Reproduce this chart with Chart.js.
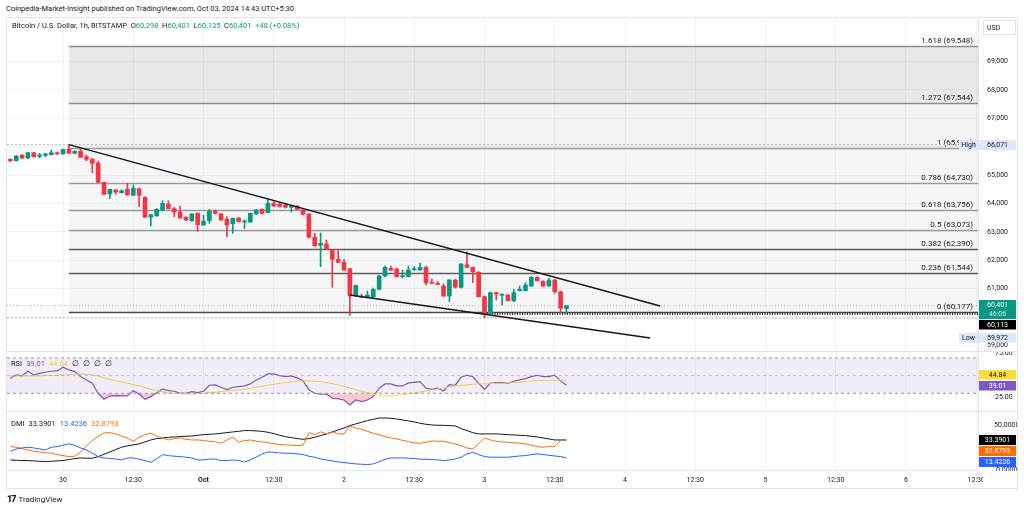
<!DOCTYPE html>
<html><head><meta charset="utf-8">
<script src="https://cdn.jsdelivr.net/npm/chart.js@4.4.1/dist/chart.umd.min.js"></script>
<style>
  body { margin:0; width:1024px; height:511px; background:#fff; overflow:hidden; position:relative;
         font-family: Roboto, "Liberation Sans", sans-serif; color:#131722; }
  canvas, .abs { position:absolute; }
  #frame { left:6px; top:17px; width:1010px; height:470px; border:1px solid #e0e3eb; }
  .sep { left:7px; width:1010px; height:1px; background:#e0e3eb; }
  #hdr { left:6px; top:4px; font-size:7.5px; white-space:nowrap; }
  #sym { left:12px; top:21px; font-size:7.5px; white-space:nowrap; }
  .leg { left:11px; font-size:7.5px; white-space:nowrap; }
  .leg span { margin-right:4px; }
  .g { color:#089981; }
  #tv { left:7px; top:494px; font-size:8px; white-space:nowrap; }
  #tv b { font-weight:900; font-size:9px; letter-spacing:-1px; margin-right:3px; }
</style>
</head>
<body>
<div id="frame" class="abs"></div>
<div id="hdr" class="abs">Coinpedia-Market-Insight published on TradingView.com, Oct 03, 2024 14:43 UTC+5:30</div>
<canvas id="price" width="1010" height="333" style="left:7px;top:18px"></canvas>
<div class="sep abs" style="top:351px"></div>
<canvas id="rsi" width="1010" height="59" style="left:7px;top:352px"></canvas>
<div class="sep abs" style="top:411px"></div>
<canvas id="dmi" width="1010" height="76" style="left:7px;top:412px"></canvas>
<div id="sym" class="abs">Bitcoin / U.S. Dollar, 1h, BITSTAMP &nbsp;O<span class="g">60,298</span> &nbsp;H<span class="g">60,401</span> &nbsp;L<span class="g">60,135</span> &nbsp;C<span class="g">60,401</span> &nbsp;<span class="g">+48 (+0.08%)</span></div>
<div class="leg abs" style="top:359px"><span>RSI</span><span style="color:#7e57c2">39.01</span><span style="color:#f9d71c">44.84</span><span>∅</span><span>∅</span><span>∅</span><span>∅</span></div>
<div class="leg abs" style="top:419px"><span>DMI</span><span>33.3901</span><span style="color:#2962ff">13.4236</span><span style="color:#ff6d00">32.8793</span></div>
<div id="tv" class="abs"><b>17</b>TradingView</div>
<script>
// hourly bars, first bar is 9 hours before the "30" tick
const firstBar = -9;
const opens = [65555,65506,65696,65601,65788,65661,65696,65717,65788,
  65742,65918,65767,65848,65647,65566,65425,64745,64333,64474,
  64379,64499,64288,64520,64217,63513,63569,63770,63981,63816,
  63699,63513,63393,63653,63241,63393,63724,63629,63442,63287,
  63488,63347,63347,63629,63794,63675,64006,63981,63946,63865,
  63911,63770,63629,62809,62527,62572,62361,62033,61927,61702,
  60741,60741,60695,60706,60977,61445,61716,61691,61427,61421,
  61671,61656,61752,61209,61188,61093,60741,61304,61047,61843,
  61752,61576,60716,60131,60857,60766,60776,60564,60927,60927,
  61093,61400,61258,61093,61304,60892,60298];
const highs = [65577,65689,65732,65802,65802,65767,65767,65883,65813,
  65918,66071,65858,65908,65707,65577,65506,64756,64509,64492,
  64474,64710,64650,64534,64238,63629,63823,64097,64097,63858,
  63910,63541,63646,63675,63583,63794,63770,63653,63534,63488,
  63506,63417,63664,63794,63815,64146,64087,64027,64006,63946,
  63928,63787,63646,62949,62960,62713,62385,62385,62033,61716,
  61128,60811,60917,61022,61480,61797,61797,61726,61656,61797,
  61780,61903,61797,61339,61252,61163,61322,61322,61885,62301,
  61762,61604,60741,60882,60882,60829,60794,60977,61093,61209,
  61427,61427,61287,61364,61322,60917,60401];
const lows = [65460,65496,65577,65577,65636,65612,65647,65707,65717,
  65732,65753,65753,65612,65506,65083,64721,64298,64168,64323,
  64368,64288,64273,63886,63499,63206,63541,63735,63805,63534,
  63470,63393,63365,63020,63224,63302,63629,63400,62829,62949,
  63347,63125,63330,63618,63629,63664,63893,63876,63840,63699,
  63770,63593,62784,62485,61773,62378,61047,61913,61638,60054,
  60723,60688,60670,60670,60952,61410,61638,61410,61375,61410,
  61638,61638,61128,61163,61128,60723,60540,61022,61022,61727,
  61209,60706,59972,60107,60600,60424,60564,60547,60917,60917,
  61075,61269,61075,61075,60836,60152,60135];
const closes = [65506,65672,65601,65788,65647,65707,65742,65788,65742,
  65908,65767,65837,65626,65555,65415,64745,64323,64499,64404,
  64450,64298,64534,64288,63513,63604,63794,64006,63816,63699,
  63488,63417,63629,63252,63372,63724,63653,63417,63241,63477,
  63358,63382,63653,63770,63653,64006,63911,63886,63865,63911,
  63794,63619,62809,62513,62597,62396,62033,61927,61656,60741,
  61111,60695,60776,60977,61445,61752,61656,61421,61445,61656,
  61681,61752,61209,61188,61153,60741,61304,61047,61868,61752,
  61597,60716,60107,60857,60811,60801,60575,60857,60977,61128,
  61400,61280,61093,61304,60892,60307,60401];

const rsi = [47.0,50.8,49.6,54.9,50.8,52.6,53.8,54.9,55.3,
  59.4,56.4,54.5,48.9,45.1,41.3,30.0,23.2,27.0,27.4,
  27.0,27.0,33.0,29.2,23.2,26.2,30.7,34.9,33.0,32.3,
  30.0,30.0,31.9,30.7,32.3,39.1,39.4,36.8,33.8,36.8,
  37.5,38.3,40.6,45.1,48.1,51.9,51.9,50.0,48.9,49.6,
  47.4,44.3,33.8,30.0,28.9,28.9,24.3,23.6,22.4,16.8,
  22.4,20.6,22.4,26.2,35.7,40.6,40.6,38.3,38.3,41.7,
  42.4,43.2,35.7,34.5,35.7,32.6,39.8,39.1,48.1,50.4,
  48.9,41.3,34.5,41.3,42.1,42.1,41.3,43.6,45.1,46.6,
  48.9,50.4,48.9,48.9,50.4,44.0,39.01];
const rsiMa = [49.6,49.6,49.6,49.6,49.6,49.6,50.0,50.0,50.4,
  50.8,51.1,51.5,51.9,51.5,50.8,49.6,47.4,45.8,44.3,
  42.8,41.3,39.8,38.3,36.4,34.5,33.0,31.9,30.7,30.0,
  29.6,29.2,29.2,29.6,30.0,30.7,31.1,31.9,32.6,33.0,
  33.8,34.5,35.7,36.8,37.9,39.1,40.2,41.3,42.1,42.8,
  43.6,44.0,44.0,43.6,43.2,42.1,40.9,39.4,37.9,36.0,
  34.2,32.3,30.4,28.9,27.7,27.0,27.4,27.7,28.5,29.2,
  30.4,31.5,32.6,33.8,34.9,36.0,37.2,38.3,39.1,39.4,
  40.2,40.6,40.6,40.9,41.3,41.3,41.7,42.1,42.4,43.2,
  44.0,44.3,44.5,44.6,44.7,44.8,44.84];
const adx = [11.2,10.8,10.5,10.5,10.1,9.7,9.4,9.7,10.1,
  10.5,11.6,12.7,13.4,13.1,13.1,14.9,17.5,20.1,22.7,
  25.3,26.8,27.9,29.0,31.2,33.4,34.9,35.6,36.4,36.7,
  37.1,37.5,37.8,38.6,39.3,39.7,40.1,40.8,41.5,42.3,
  43.0,43.8,43.8,43.4,43.0,41.9,40.4,38.6,37.1,36.0,
  34.9,34.1,34.9,36.4,38.2,40.1,42.3,44.5,46.7,49.3,
  51.2,53.0,54.9,56.3,57.8,57.8,57.5,56.7,55.6,54.5,
  53.4,51.9,50.8,50.1,49.7,49.7,49.3,49.0,46.0,43.8,
  41.5,40.1,40.1,40.1,40.1,39.7,39.3,39.0,38.6,38.2,
  37.5,36.7,35.6,34.5,33.4,33.4,33.3901];
const minusDi = [26.0,25.3,23.8,22.3,20.8,20.1,19.3,18.6,17.1,
  16.0,14.9,15.3,19.7,26.7,32.7,37.1,41.2,41.5,40.1,
  37.8,35.6,31.9,36.4,39.3,40.8,37.8,35.6,33.4,34.9,
  35.6,34.1,33.4,33.4,32.7,31.9,31.2,29.7,33.4,36.4,
  30.8,32.7,33.4,31.9,31.2,30.4,29.3,28.2,27.9,27.5,
  27.1,27.5,41.5,39.3,42.3,40.1,42.7,40.1,40.1,49.0,
  46.7,45.2,43.0,40.8,39.3,37.1,35.6,34.5,33.0,31.6,
  30.1,29.7,30.8,32.3,31.9,31.9,30.4,29.0,27.1,24.5,
  23.4,29.0,35.6,33.4,31.9,31.2,30.8,30.4,29.7,29.0,
  27.5,26.0,25.3,26.0,26.0,32.7,32.8793];
const plusDi = [20.8,23.4,24.5,25.3,24.5,23.4,22.3,25.3,26.0,
  27.5,29.0,27.5,24.5,22.3,18.6,14.9,13.4,12.7,12.3,
  11.2,13.4,13.4,12.0,10.5,8.6,12.3,17.1,16.0,15.3,
  14.9,14.2,13.4,11.2,11.2,12.3,12.0,10.5,10.5,11.2,
  10.5,9.0,11.2,14.2,17.9,20.1,19.7,19.0,18.6,18.6,
  17.9,17.1,15.3,14.2,12.3,11.2,10.1,9.0,8.2,7.5,
  6.8,6.4,6.0,6.8,9.0,12.0,13.4,13.4,13.4,13.1,
  12.7,12.0,12.0,11.6,11.2,10.5,11.2,12.3,14.2,17.9,
  19.7,17.1,14.9,14.2,14.2,14.2,14.2,14.9,15.6,16.0,
  17.1,17.9,17.1,16.4,15.6,14.9,13.4236];

const timeTicks = [0,12,24,36,48,60,72,84,96,108,120,132,144,156];
const timeLabels = ['30','12:30','Oct','12:30','2','12:30','3','12:30','4','12:30','5','12:30','6','12:30'];
const priceTicks = [59000,60000,61000,62000,63000,64000,65000,66000,67000,68000,69000];

const fibRatios = ['1.618','1.272','1','0.786','0.618','0.5','0.382','0.236','0'];
const fibPrices = [69548,67544,65969,64730,63756,63073,62390,61544,60177];
const fibStart = 1;
const trendUpper = [{x:1, y:66071}, {x:102, y:60390}];
const trendLower = [{x:49, y:60776}, {x:100.3, y:59262}];
const priceHigh = 66071, priceLow = 59972, lastPrice = 60401, rayPrice = 60113, rayStart = 72;
const countdown = '46:06';
const rsiLevels = [70, 50, 30];
const rsiTicks = [25, 75];
const dmiTicks = [0, 50];

// view
const xMin = -9.57, xMax = 156.3;
const AXIS_W = 39;
const gridColor = '#f0f3fa';
const up = '#089981', down = '#f23645';
const fibFills = ['rgba(0,0,0,0.085)','rgba(0,0,0,0.05)','rgba(0,0,0,0.035)','rgba(0,0,0,0.035)',
  'rgba(0,0,0,0.035)','rgba(0,0,0,0.035)','rgba(0,0,0,0.035)','rgba(0,0,0,0.035)'];
const fibLines = ['#8c8c8c','#8c8c8c','#9a9a9a','#9a9a9a','#9a9a9a','#9a9a9a','#5d5d5d','#5d5d5d','#4a4a4a'];

Chart.defaults.font.family = 'Roboto, "Liberation Sans", sans-serif';
Chart.defaults.font.size = 7;
Chart.defaults.color = '#131722';
Chart.defaults.animation = false;
Chart.defaults.plugins.legend.display = false;
Chart.defaults.plugins.tooltip.enabled = false;

const fmt = v => v.toLocaleString('en-US');
const barX = i => firstBar + i;

function xScale(showLabels) {
  return {
    type: 'linear', min: xMin, max: xMax, offset: false,
    grid: { color: gridColor, drawTicks: false, offset: false },
    border: { display: showLabels, color: '#e0e3eb' },
    ticks: {
      display: showLabels, padding: 6, autoSkip: false, maxRotation: 0,
      callback: (v, i) => timeLabels[i],
      font: c => ({ size: 7, weight: timeLabels[c.index] === 'Oct' ? 'bold' : 'normal' })
    },
    afterBuildTicks: s => { s.ticks = timeTicks.map(v => ({ value: v })); },
    afterFit: s => { s.height = showLabels ? 18 : 0; s.paddingLeft = 0; s.paddingRight = 0; }
  };
}
function yScale(min, max, pad, extra) {
  return Object.assign({
    position: 'right', min, max,
    grid: { display: false },
    border: { color: '#e0e3eb' },
    ticks: { crossAlign: 'center', padding: pad },
    afterFit: s => { s.width = AXIS_W; s.paddingTop = 0; s.paddingBottom = 0; }
  }, extra);
}

function tag(ctx, x, yc, w, h, bg, fg, text) {
  ctx.fillStyle = bg;
  ctx.fillRect(x, Math.round(yc - h / 2), w, h);
  ctx.fillStyle = fg;
  ctx.textAlign = 'center';
  ctx.textBaseline = 'middle';
  ctx.fillText(text, x + w / 2, yc + 0.5);
}

const fibPlugin = {
  id: 'fib',
  beforeDatasetsDraw(chart) {
    const { ctx, chartArea: a, scales: { x, y } } = chart;
    const x0 = x.getPixelForValue(fibStart), x1 = a.right;
    ctx.save();
    for (let i = 0; i < fibPrices.length - 1; i++) {
      const ya = y.getPixelForValue(fibPrices[i]), yb = y.getPixelForValue(fibPrices[i + 1]);
      ctx.fillStyle = fibFills[i];
      ctx.fillRect(x0, ya, x1 - x0, yb - ya);
    }
    ctx.font = '8px Roboto, sans-serif';
    ctx.textAlign = 'right';
    ctx.textBaseline = 'middle';
    fibPrices.forEach((p, i) => {
      const yy = Math.round(y.getPixelForValue(p)) + 0.5;
      ctx.strokeStyle = fibLines[i];
      ctx.lineWidth = 1.3;
      ctx.beginPath(); ctx.moveTo(x0, yy); ctx.lineTo(x1, yy); ctx.stroke();
      ctx.fillStyle = '#131722';
      ctx.fillText(fibRatios[i] + ' (' + fmt(p) + ')', x1 - 5, yy - 6);
    });
    ctx.restore();
  }
};

const priceTags = {
  id: 'priceTags',
  afterDraw(chart) {
    const { ctx, chartArea: a, scales: { y } } = chart;
    const L = a.right + 1, W = chart.width - L - 1;
    ctx.save();
    ctx.font = '7px Roboto, sans-serif';
    // USD box
    ctx.fillStyle = '#fff'; ctx.strokeStyle = '#e0e3eb';
    ctx.fillRect(L + 4.5, 2.5, W - 5, 14); ctx.strokeRect(L + 4.5, 2.5, W - 5, 14);
    ctx.fillStyle = '#131722'; ctx.textAlign = 'left'; ctx.textBaseline = 'middle';
    ctx.fillText('USD', L + 8, 10);
    // high / low
    const hy = y.getPixelForValue(priceHigh);
    tag(ctx, L, hy, W, 10, '#dde8f9', '#131722', fmt(priceHigh));
    tag(ctx, L - 20, hy, 19, 10, '#dde8f9', '#131722', 'High');
    // last price with countdown
    const gy = y.getPixelForValue(lastPrice);
    const gTop = Math.round(gy - 5.5);
    ctx.fillStyle = up; ctx.fillRect(L, gTop, W, 19);
    ctx.fillStyle = '#fff'; ctx.textAlign = 'center';
    ctx.fillText(fmt(lastPrice), L + W / 2, gTop + 5.5);
    ctx.fillStyle = 'rgba(255,255,255,0.8)';
    ctx.fillText(countdown, L + W / 2, gTop + 14);
    const by = Math.max(y.getPixelForValue(rayPrice), gTop + 19 + 6);
    tag(ctx, L, by, W, 9.5, '#000', '#fff', fmt(rayPrice));
    const ly = Math.max(y.getPixelForValue(priceLow), by + 13);
    tag(ctx, L, ly, W, 9.5, '#dde8f9', '#131722', fmt(priceLow));
    tag(ctx, L - 20, ly, 19, 9.5, '#dde8f9', '#131722', 'Low');
    ctx.restore();
  }
};

const hideNear = [priceHigh, lastPrice, rayPrice, priceLow];
const bodyColors = closes.map((c, i) => c >= opens[i] ? up : down);

new Chart(document.getElementById('price'), {
  type: 'bar',
  data: {
    datasets: [
      { data: opens.map((o, i) => ({ x: barX(i), y: [lows[i], highs[i]] })),
        backgroundColor: bodyColors, barThickness: 1, grouped: false, order: 3 },
      { data: opens.map((o, i) => ({ x: barX(i), y: [o, closes[i]] })),
        backgroundColor: bodyColors, barThickness: 4, minBarLength: 1, grouped: false, order: 2 },
      { type: 'line', data: trendUpper, borderColor: '#131722', borderWidth: 1.4, pointRadius: 0, order: 1 },
      { type: 'line', data: trendLower, borderColor: '#131722', borderWidth: 1.4, pointRadius: 0, order: 1 },
      { type: 'line', data: [{ x: xMin, y: priceHigh }, { x: xMax, y: priceHigh }],
        borderColor: '#b2b5be', borderWidth: 1, borderDash: [2, 2], pointRadius: 0, order: 4 },
      { type: 'line', data: [{ x: xMin, y: priceLow }, { x: xMax, y: priceLow }],
        borderColor: '#b2b5be', borderWidth: 1, borderDash: [2, 2], pointRadius: 0, order: 4 },
      { type: 'line', data: [{ x: xMin, y: lastPrice }, { x: xMax, y: lastPrice }],
        borderColor: 'rgba(8,153,129,0.55)', borderWidth: 1, borderDash: [1, 2], pointRadius: 0, order: 4 },
      { type: 'line', data: [{ x: rayStart, y: rayPrice }, { x: xMax, y: rayPrice }],
        borderColor: '#2a2e39', borderWidth: 2.5, borderDash: [1, 1.5], pointRadius: 0, order: 4 }
    ]
  },
  options: {
    responsive: false, devicePixelRatio: 1,
    layout: { padding: 0 },
    scales: {
      x: xScale(false),
      y: yScale(58804, 70532, 9, {
        grid: { color: gridColor, drawTicks: false },
        afterBuildTicks: s => { s.ticks = priceTicks.map(v => ({ value: v })); },
        ticks: { crossAlign: 'center', padding: 9,
          callback: v => hideNear.some(p => Math.abs(p - v) < 300) ? '' : fmt(v) }
      })
    }
  },
  plugins: [fibPlugin, priceTags]
});

// RSI
const rsiTags = {
  id: 'rsiTags',
  afterDraw(chart) {
    const { ctx, chartArea: a, scales: { y } } = chart;
    const L = a.right + 1, W = chart.width - L - 1;
    ctx.save(); ctx.font = '7px Roboto, sans-serif';
    const py = y.getPixelForValue(rsi[rsi.length - 1]);
    const yy = Math.min(y.getPixelForValue(rsiMa[rsiMa.length - 1]), py - 10.5);
    tag(ctx, L, yy, W, 9.5, '#fbdd3a', '#131722', rsiMa[rsiMa.length - 1].toFixed(2));
    tag(ctx, L, py, W, 9.5, '#7e57c2', '#fff', rsi[rsi.length - 1].toFixed(2));
    ctx.restore();
  }
};
const lvl = v => [{ x: xMin, y: v }, { x: xMax, y: v }];
new Chart(document.getElementById('rsi'), {
  type: 'line',
  data: {
    datasets: [
      { data: lvl(rsiLevels[0]), borderColor: '#9598a1', borderWidth: 1, borderDash: [3, 3], pointRadius: 0,
        fill: { target: { value: rsiLevels[2] }, above: 'rgba(126,87,194,0.1)', below: 'rgba(0,0,0,0)' } },
      { data: lvl(rsiLevels[1]), borderColor: 'rgba(149,152,161,0.5)', borderWidth: 1, borderDash: [3, 3], pointRadius: 0 },
      { data: lvl(rsiLevels[2]), borderColor: '#9598a1', borderWidth: 1, borderDash: [3, 3], pointRadius: 0 },
      { data: rsiMa.map((v, i) => ({ x: barX(i), y: v })), borderColor: '#fdd835', borderWidth: 1, pointRadius: 0 },
      { data: rsi.map((v, i) => ({ x: barX(i), y: v })), borderColor: '#7e57c2', borderWidth: 1.2, pointRadius: 0,
        fill: { target: { value: rsiLevels[2] }, above: 'rgba(0,0,0,0)', below: 'rgba(242,54,69,0.28)' } }
    ]
  },
  options: {
    responsive: false, devicePixelRatio: 1, layout: { padding: 0 },
    scales: {
      x: xScale(false),
      y: yScale(9.91, 76.73, 9, {
        afterBuildTicks: s => { s.ticks = rsiTicks.map(v => ({ value: v })); },
        ticks: { crossAlign: 'center', padding: 9, callback: v => v.toFixed(2) }
      })
    }
  },
  plugins: [rsiTags]
});

// DMI
const dmiTags = {
  id: 'dmiTags',
  afterDraw(chart) {
    const { ctx, chartArea: a, scales: { y } } = chart;
    const L = a.right + 1, W = chart.width - L - 1;
    ctx.save();
    ctx.fillStyle = '#fff';
    ctx.fillRect(a.right + 5, a.bottom + 1, chart.width, chart.height);
    ctx.font = '7px Roboto, sans-serif';
    const n = adx.length - 1;
    const y1 = y.getPixelForValue(adx[n]);
    const y2 = Math.max(y.getPixelForValue(minusDi[n]), y1 + 11);
    const y3 = Math.max(y.getPixelForValue(plusDi[n]), y2 + 11);
    tag(ctx, L, y1, W, 10, '#000', '#fff', adx[n].toFixed(4));
    tag(ctx, L, y2, W, 10, '#ff6d00', '#fff', minusDi[n].toFixed(4));
    tag(ctx, L, y3, W, 10, '#2962ff', '#fff', plusDi[n].toFixed(4));
    ctx.restore();
  }
};
new Chart(document.getElementById('dmi'), {
  type: 'line',
  data: {
    datasets: [
      { data: plusDi.map((v, i) => ({ x: barX(i), y: v })), borderColor: '#2962ff', borderWidth: 1, pointRadius: 0 },
      { data: minusDi.map((v, i) => ({ x: barX(i), y: v })), borderColor: '#ff6d00', borderWidth: 1, pointRadius: 0 },
      { data: adx.map((v, i) => ({ x: barX(i), y: v })), borderColor: '#131722', borderWidth: 1, pointRadius: 0 }
    ]
  },
  options: {
    responsive: false, devicePixelRatio: 1, layout: { padding: 0 },
    scales: {
      x: xScale(true),
      y: yScale(0, 64.44, 8, {
        afterBuildTicks: s => { s.ticks = dmiTicks.map(v => ({ value: v })); },
        ticks: { crossAlign: 'center', padding: 8, callback: v => v.toFixed(4) }
      })
    }
  },
  plugins: [dmiTags]
});
</script>
</body></html>
